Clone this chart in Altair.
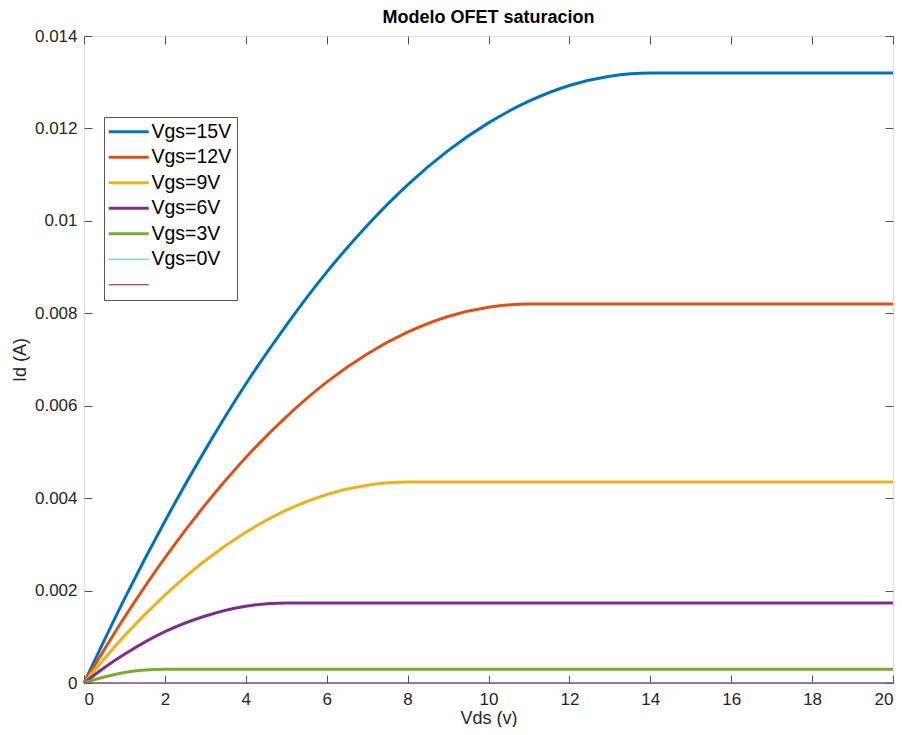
import altair as alt
import pandas as pd

# ---- data ----
series_names = ["Vgs=15V", "Vgs=12V", "Vgs=9V", "Vgs=6V", "Vgs=3V", "Vgs=0V", " "]
series_colors = ["#0072BD", "#D95319", "#EDB120", "#7E2F8E", "#77AC30", "#4DBEEE", "#A2142F"]
thick_names = ["Vgs=15V", "Vgs=12V", "Vgs=9V", "Vgs=6V", "Vgs=3V"]
thin_names = ["Vgs=0V", " "]

vds_15 = [0, 1, 2, 3, 4, 5, 6, 7, 8, 9, 10, 11, 12, 13, 14, 20]
id_15 = [0, 0.00182, 0.00350, 0.00505, 0.00647, 0.00774, 0.00889, 0.00990,
         0.01078, 0.01152, 0.01212, 0.01259, 0.01293, 0.01313, 0.01320, 0.01320]

vds_12 = [0, 1, 2, 3, 4, 5, 6, 7, 8, 9, 10, 11, 20]
id_12 = [0, 0.00142, 0.00271, 0.00386, 0.00488, 0.00576, 0.00651, 0.00712,
         0.00759, 0.00793, 0.00813, 0.00820, 0.00820]

vds_9 = [0, 1, 2, 3, 4, 5, 6, 7, 8, 20]
id_9 = [0, 0.00102, 0.00190, 0.00265, 0.00326, 0.00374, 0.00408, 0.00428, 0.00435, 0.00435]

vds_6 = [0, 0.5, 1, 2, 3, 4, 5, 20]
id_6 = [0, 0.00033, 0.00062, 0.00111, 0.00145, 0.00166, 0.00173, 0.00173]

vds_3 = [0, 0.5, 1, 1.5, 2, 20]
id_3 = [0, 0.00013, 0.000225, 0.00028, 0.00030, 0.00030]

vds_0 = [0, 20]
id_0 = [0, 0]

vds_extra = [0, 20]
id_extra = [0, 0]

x_ticks = [0, 2, 4, 6, 8, 10, 12, 14, 16, 18, 20]
y_ticks = [0, 0.002, 0.004, 0.006, 0.008, 0.010, 0.012, 0.014]

rows = []
for name, xs, ys in zip(series_names,
                        [vds_15, vds_12, vds_9, vds_6, vds_3, vds_0, vds_extra],
                        [id_15, id_12, id_9, id_6, id_3, id_0, id_extra]):
    for xv, yv in zip(xs, ys):
        rows.append({"series": name, "vds": xv, "id": yv})
df = pd.DataFrame(rows)

FONT = "Liberation Sans"
TXT = "#262626"
GRAY = "#555555"

xscale = alt.Scale(domain=[0, 20], nice=False, zero=False)
yscale = alt.Scale(domain=[0, 0.014], nice=False, zero=False)
cscale = alt.Scale(domain=series_names, range=series_colors)

thin_expr = " || ".join("datum.value == '%s'" % n for n in thin_names)

legend = alt.Legend(
    title=None, orient="none", legendX=20, legendY=81,
    symbolType="M-2,0H2", symbolSize=400, symbolOffset=10,
    labelOffset=13, labelFont=FONT, labelFontSize=19.5,
    labelColor="#000000", rowPadding=4.5, padding=5,
    strokeColor=GRAY, fillColor="#ffffff", labelLimit=200,
    symbolStrokeWidth=alt.ExprRef(expr="(%s) ? 1 : 3" % thin_expr))

x_main = alt.X("vds:Q", scale=xscale,
               axis=alt.Axis(orient="bottom", values=x_ticks, offset=-8, tickSize=8,
                             domain=False, grid=False, tickColor=GRAY,
                             labelPadding=8, labelFont=FONT, labelFontSize=17,
                             labelColor=TXT, title="Vds (v)", titleFont=FONT,
                             titleFontSize=18, titleFontWeight="normal",
                             titleColor=TXT, titlePadding=2))
y_main = alt.Y("id:Q", scale=yscale,
               axis=alt.Axis(orient="left", values=y_ticks, offset=-8, tickSize=8,
                             domain=False, grid=False, tickColor=GRAY, format="~g",
                             labelPadding=7, labelFont=FONT, labelFontSize=17,
                             labelColor=TXT, title="Id (A)", titleFont=FONT,
                             titleFontSize=18, titleFontWeight="normal",
                             titleColor=TXT, titlePadding=5))

thick = alt.Chart(df).transform_filter(
    alt.FieldOneOfPredicate(field="series", oneOf=thick_names)
).mark_line(interpolate="monotone", strokeWidth=3).encode(
    x=x_main, y=y_main,
    color=alt.Color("series:N", scale=cscale, sort=series_names, legend=legend),
    order="vds:Q")

thin = alt.Chart(df).transform_filter(
    alt.FieldOneOfPredicate(field="series", oneOf=thin_names)
).mark_line(strokeWidth=1).encode(
    x=alt.X("vds:Q", scale=xscale, axis=None),
    y=alt.Y("id:Q", scale=yscale, axis=None),
    color=alt.Color("series:N", scale=cscale, sort=series_names, legend=legend),
    order="vds:Q")

ticks_layer = alt.Chart(df).mark_line(opacity=0).encode(
    x=alt.X("vds:Q", scale=xscale,
            axis=alt.Axis(orient="top", values=x_ticks, offset=-8, tickSize=8,
                          domain=False, grid=False, labels=False, tickColor=GRAY,
                          title=None)),
    y=alt.Y("id:Q", scale=yscale,
            axis=alt.Axis(orient="right", values=y_ticks, offset=-8, tickSize=8,
                          domain=False, grid=False, labels=False, tickColor=GRAY,
                          title=None)),
)

chart = alt.layer(thick, thin, ticks_layer).resolve_axis(
    x="independent", y="independent"
).properties(
    width=809, height=647,
    title=alt.Title("Modelo OFET saturacion", font=FONT, fontSize=18,
                    fontWeight="bold", color="#000000", anchor="middle",
                    offset=0),
    autosize=alt.AutoSizeParams(type="none"),
    padding={"left": 76, "top": 28, "right": 1, "bottom": 44},
).configure_view(stroke=GRAY, strokeWidth=1).configure(background="#ffffff")

chart.save("out.html", embed_options={"renderer": "svg", "actions": False})
